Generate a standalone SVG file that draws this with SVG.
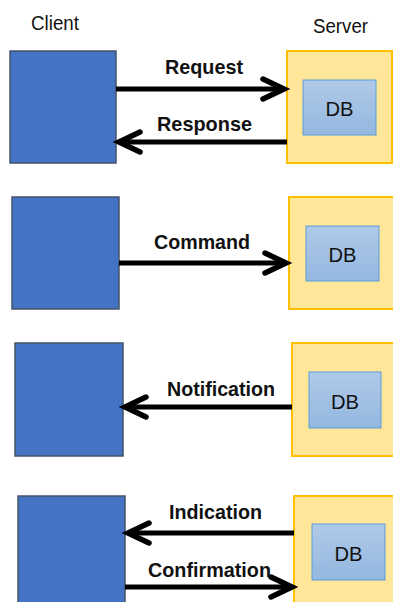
<svg xmlns="http://www.w3.org/2000/svg" width="393" height="602" viewBox="0 0 393 602">
<defs>
<linearGradient id="dbg" x1="0" y1="0" x2="0" y2="1">
<stop offset="0" stop-color="#B0C9E8"/>
<stop offset="1" stop-color="#94B8E0"/>
</linearGradient>
<style>
.client{fill:#4472C4;stroke:#44546A;stroke-width:1.5}
.server{fill:#FFE699;stroke:#FFC000;stroke-width:2}
.db{fill:url(#dbg);stroke:#5B9BD5;stroke-width:1}
.lbl{font-family:"Liberation Sans",Arial,sans-serif;font-size:20px;fill:#111}
.dbt{font-family:"Liberation Sans",Arial,sans-serif;font-size:21px;fill:#111;text-anchor:middle}
.msg{font-family:"Liberation Sans",Arial,sans-serif;font-size:20.5px;font-weight:bold;fill:#111;text-anchor:middle}
.ln{stroke:#000;stroke-width:5;fill:none}
.hd{stroke:#000;stroke-width:5.5;fill:none;stroke-linecap:round;stroke-linejoin:miter}
</style>
</defs>
<rect width="393" height="602" fill="#fff"/>
<text class="lbl" x="31" y="30" textLength="48" lengthAdjust="spacingAndGlyphs">Client</text>
<text class="lbl" x="313" y="33" textLength="55" lengthAdjust="spacingAndGlyphs">Server</text>

<g id="client1"><rect class="client" x="10" y="51" width="106" height="112"/></g>
<g id="server1"><rect class="server" x="287" y="51" width="105" height="112"/>
<rect class="db" x="303" y="80" width="73" height="55"/><text class="dbt" x="339.5" y="116" textLength="28" lengthAdjust="spacingAndGlyphs">DB</text></g>

<g id="client2"><rect class="client" x="12" y="197" width="107" height="112"/></g>
<g id="server2"><rect class="server" x="289" y="197" width="106" height="112"/>
<rect class="db" x="306" y="226" width="73" height="55"/><text class="dbt" x="342.5" y="262" textLength="28" lengthAdjust="spacingAndGlyphs">DB</text></g>

<g id="client3"><rect class="client" x="15" y="343" width="108" height="113"/></g>
<g id="server3"><rect class="server" x="292" y="343" width="103" height="113"/>
<rect class="db" x="309" y="372" width="72" height="56"/><text class="dbt" x="345" y="409" textLength="28" lengthAdjust="spacingAndGlyphs">DB</text></g>

<g id="client4"><rect class="client" x="18" y="496" width="107" height="110"/></g>
<g id="server4"><rect class="server" x="294" y="496" width="103" height="110"/>
<rect class="db" x="312" y="524" width="73" height="56"/><text class="dbt" x="348.5" y="561" textLength="28" lengthAdjust="spacingAndGlyphs">DB</text></g>

<g id="connectors">
<line class="ln" x1="116" y1="89" x2="283" y2="89"/>
<polyline class="hd" points="263,79 284,89 263,99"/>
<text class="msg" x="204" y="74" textLength="78" lengthAdjust="spacingAndGlyphs">Request</text>
<line class="ln" x1="287" y1="142" x2="120" y2="142"/>
<polyline class="hd" points="140,132 119,142 140,152"/>
<text class="msg" x="204.5" y="131" textLength="95" lengthAdjust="spacingAndGlyphs">Response</text>

<line class="ln" x1="119" y1="263" x2="286" y2="263"/>
<polyline class="hd" points="265,253 286,263 265,273"/>
<text class="msg" x="202" y="249" textLength="96" lengthAdjust="spacingAndGlyphs">Command</text>

<line class="ln" x1="292" y1="407" x2="126" y2="407"/>
<polyline class="hd" points="146,397 125,407 146,417"/>
<text class="msg" x="221" y="396" textLength="108" lengthAdjust="spacingAndGlyphs">Notification</text>

<line class="ln" x1="294" y1="533" x2="129" y2="533"/>
<polyline class="hd" points="149,523 128,533 149,543"/>
<text class="msg" x="215.5" y="519" textLength="93" lengthAdjust="spacingAndGlyphs">Indication</text>

<line class="ln" x1="125" y1="587" x2="291" y2="587"/>
<polyline class="hd" points="271,577 292,587 271,597"/>
<text class="msg" x="209.5" y="577" textLength="123" lengthAdjust="spacingAndGlyphs">Confirmation</text>
</g>
</svg>
